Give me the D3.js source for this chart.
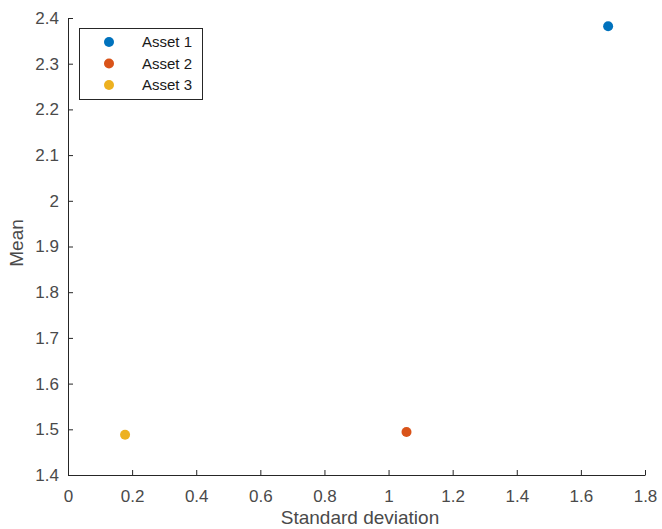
<!DOCTYPE html>
<html>
<head>
<meta charset="utf-8">
<script src="https://cdn.jsdelivr.net/npm/d3@7/dist/d3.min.js"></script>
<style>
  html, body { margin: 0; padding: 0; background: #fff; }
  svg { display: block; font-family: "Liberation Sans", Arial, sans-serif; }
</style>
</head>
<body>
<svg id="chart" width="662" height="529"></svg>
<script>
// Risk/return of each asset
const assets = ["Asset 1", "Asset 2", "Asset 3"];
const stdDev = [1.685, 1.056, 0.178];
const meanRet = [2.382, 1.494, 1.488];
const colors = ["#0072BD", "#D95319", "#EDB120"];
const xTicks = [0, 0.2, 0.4, 0.6, 0.8, 1, 1.2, 1.4, 1.6, 1.8];
const yTicks = [1.4, 1.5, 1.6, 1.7, 1.8, 1.9, 2, 2.1, 2.2, 2.3, 2.4];

const svg = d3.select("#chart");
const plotL = 68, plotR = 645, plotT = 18, plotB = 475;
const axisColor = "#262626";
const textColor = "#4a4a4a";

const x = d3.scaleLinear().domain([0, 1.8]).range([plotL, plotR]);
const y = d3.scaleLinear().domain([1.4, 2.4]).range([plotB, plotT]);

// Axes with inward ticks
const xAxis = svg.append("g")
  .attr("transform", `translate(0,${plotB})`)
  .call(d3.axisBottom(x).tickValues(xTicks).tickFormat(d3.format("~g"))
    .tickSizeInner(-5).tickSizeOuter(0).tickPadding(15));
const yAxis = svg.append("g")
  .attr("transform", `translate(${plotL},0)`)
  .call(d3.axisLeft(y).tickValues(yTicks).tickFormat(d3.format("~g"))
    .tickSizeInner(-5).tickSizeOuter(0).tickPadding(9));

[xAxis, yAxis].forEach(g => {
  g.select(".domain").attr("stroke", axisColor).attr("stroke-width", 1);
  g.selectAll(".tick line").attr("stroke", axisColor);
  g.selectAll(".tick text").attr("fill", textColor).attr("font-size", 17)
    .attr("font-family", "Liberation Sans, Arial, sans-serif");
});

// Axis titles
svg.append("text")
  .attr("x", 360).attr("y", 524)
  .attr("text-anchor", "middle").attr("font-size", 19).attr("fill", textColor)
  .text("Standard deviation");
svg.append("text")
  .attr("transform", `translate(23,243) rotate(-90)`)
  .attr("text-anchor", "middle").attr("font-size", 19).attr("fill", textColor)
  .text("Mean");

// Points
svg.append("g").selectAll("circle")
  .data(assets.map((a, i) => ({ a, sx: stdDev[i], m: meanRet[i], c: colors[i] })))
  .join("circle")
  .attr("cx", d => x(d.sx))
  .attr("cy", d => y(d.m))
  .attr("r", 5)
  .attr("fill", d => d.c);

// Legend
const legend = svg.append("g");
legend.append("rect")
  .attr("x", 79.5).attr("y", 28.5).attr("width", 123).attr("height", 71)
  .attr("fill", "#fff").attr("stroke", axisColor).attr("stroke-width", 1);
const items = legend.selectAll("g.item")
  .data(assets.map((a, i) => ({ a, c: colors[i] })))
  .join("g").attr("class", "item")
  .attr("transform", (d, i) => `translate(0,${42 + i * 21.5})`);
items.append("circle").attr("cx", 109).attr("cy", 0).attr("r", 5).attr("fill", d => d.c);
items.append("text").attr("x", 142).attr("y", 0).attr("dy", "0.35em")
  .attr("font-size", 15).attr("fill", "#1a1a1a").text(d => d.a);
</script>
</body>
</html>
